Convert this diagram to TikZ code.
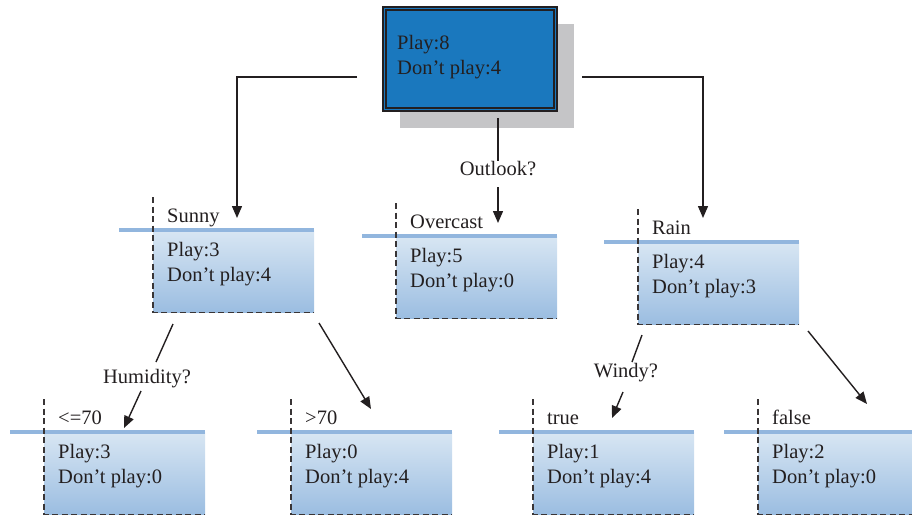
\documentclass[tikz,border=0pt]{standalone}
\usepackage{fontspec}
\setmainfont{Liberation Serif}
\usetikzlibrary{arrows.meta,calc}

\definecolor{rootblue}{HTML}{1A78BE}
\definecolor{shadowgray}{HTML}{C5C5C7}
\definecolor{railblue}{HTML}{92B6DE}
\definecolor{leaftop}{HTML}{D8E6F3}
\definecolor{leafbottom}{HTML}{9BBDE1}
\definecolor{ink}{HTML}{231F20}

\tikzset{
  txt/.style={font=\fontsize{20.5}{26}\selectfont, text=ink, inner sep=0pt},
  leafbox/.style={anchor=north west, minimum width=161pt, minimum height=82pt,
    inner sep=0pt, top color=leaftop, bottom color=leafbottom},
  rail/.style={draw=railblue, line width=4pt},
  edgeline/.style={draw=ink!90, line width=1.2pt, dash pattern=on 6pt off 3.5pt},
  conn/.style={draw=ink, line width=1.4pt},
  arr/.style={conn, -{Triangle[length=12pt,width=10pt]}},
  rootbox/.style={draw=ink, line width=1.8pt, fill=rootblue,
    minimum width=174pt, minimum height=104pt, inner sep=0pt},
}

% leaf: name, x of dashed edge, y of top rail, branch label, play count, don't-play count
\newcommand\treeleaf[6]{%
  \node[leafbox] (#1) at (#2,#3) {};
  \draw[rail] ($(#1.north west)+(-34,0)$) -- (#1.north east);
  \draw[edgeline] ($(#1.north west)+(0,-33)$) -- (#1.south west) -- (#1.south east);
  \node[txt, anchor=base west] (#1-lab) at ($(#1.north west)+(14,-8)$) {#4};
  \node[txt, anchor=base west] (#1-p) at ($(#1.north west)+(14,26)$) {Play:#5};
  \node[txt, anchor=base west] (#1-d) at ($(#1.north west)+(14,51)$) {Don’t play:#6};
}

\begin{document}
\begin{tikzpicture}[x=1pt, y=-1pt]
\useasboundingbox (0,0) rectangle (912,517);

% root with drop shadow and double frame
\fill[shadowgray] (400,24) rectangle (574,128);
\node[rootbox] (root) at (470,59) {};
\draw[ink, line width=1.3pt] ($(root.north west)+(4,4)$) rectangle ($(root.south east)+(-4,-4)$);
\node[txt, anchor=base west] (root-p) at (397,49) {Play:8};
\node[txt, anchor=base west] (root-d) at (397,74) {Don’t play:4};

% first level
\treeleaf{sunny}{153}{230}{Sunny}{3}{4}
\treeleaf{overcast}{396}{236}{Overcast}{5}{0}
\treeleaf{rain}{638}{242}{Rain}{4}{3}

% second level
\treeleaf{lowhum}{44}{432}{<=70}{3}{0}
\treeleaf{highhum}{291}{432}{>70}{0}{4}
\treeleaf{windyyes}{533}{432}{true}{1}{4}
\treeleaf{windyno}{758}{432}{false}{2}{0}

% split labels
\node[txt, anchor=base] (outlook) at (498,175) {Outlook?};
\node[txt, anchor=base] (humidity) at (147,383) {Humidity?};
\node[txt, anchor=base] (windy) at (626,377) {Windy?};

% connector ends
\coordinate (rootL) at (357,77);
\coordinate (rootR) at (582,77);
\coordinate (rootM) at (498,118);
\coordinate (outA) at (498,187);
\coordinate (sunA) at (173,324);
\coordinate (sunB) at (156,362);
\coordinate (humA) at (141,391);
\coordinate (sunC) at (319,323);
\coordinate (rainA) at (642,335);
\coordinate (rainB) at (632,362);
\coordinate (windA) at (623,392);
\coordinate (rainC) at (808,331);

% root connectors
\draw[arr] (rootL) -| ($(sunny.north west)+(84,-12)$);
\draw[arr] (rootR) -| ($(rain.north west)+(65,-24)$);
\draw[conn] (rootM) -- (outlook.north);
\draw[arr] (outA) -- ($(overcast.north west)+(102,-13)$);

% sunny connectors
\draw[conn] (sunA) -- (sunB);
\draw[arr] (humA) -- ($(lowhum.north west)+(80,-4)$);
\draw[arr] (sunC) -- ($(highhum.north west)+(80,-23)$);

% rain connectors
\draw[conn] (rainA) -- (rainB);
\draw[arr] (windA) -- ($(windyyes.north west)+(79,-14)$);
\draw[arr] (rainC) -- ($(windyno.north west)+(109,-28)$);
\end{tikzpicture}
\end{document}
